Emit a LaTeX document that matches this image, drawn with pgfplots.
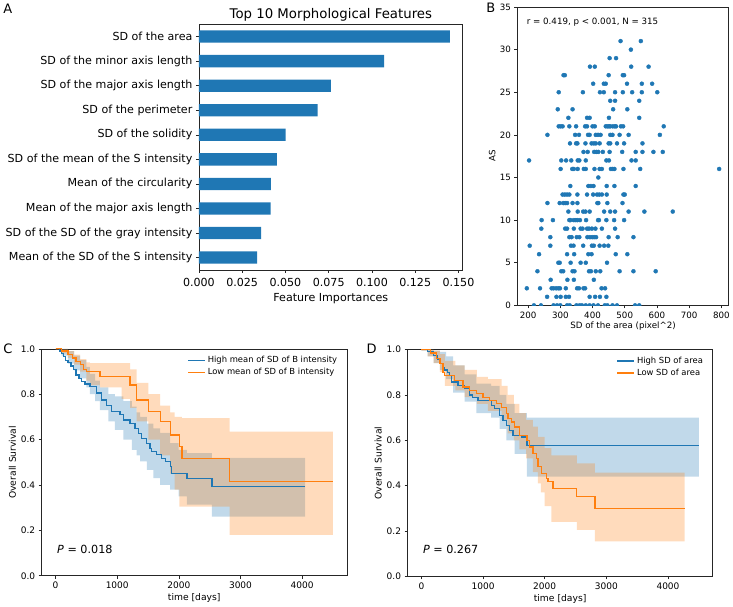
\documentclass[border=0pt]{standalone}
\usepackage{fontspec}
\setmainfont{DejaVu Sans}
\usepackage{pgfplots}
\usepackage{pgfplotstable}
\pgfplotsset{compat=1.18}
\usepgfplotslibrary{fillbetween}
\definecolor{tabblue}{HTML}{1F77B4}
\definecolor{taborange}{HTML}{FF7F0E}
\newcommand{\fsz}[1]{\fontsize{#1bp}{1.2\dimexpr #1bp\relax}\selectfont}

\pgfplotsset{
  mpl/.style={
    scale only axis,
    axis line style={black!85, line width=0.6bp},
    every tick/.style={black!85, line width=0.6bp},
    tick align=outside,
    major tick length=3bp,
    xtick pos=bottom, ytick pos=left,
    /pgf/number format/assume math mode=true,
  },
  km/.style={
    mpl,
    width=305.3bp, height=227bp,
    xmin=-225, xmax=4725, ymin=0, ymax=1,
    xtick={0,1000,2000,3000,4000},
    xticklabels={0,1000,2000,3000,4000},
    ytick={0,0.2,0.4,0.6,0.8,1.0},
    yticklabels={0.0,0.2,0.4,0.6,0.8,1.0},
    tick label style={font=\fsz{9}},
    label style={font=\fsz{9.2}},
    xlabel={time [days]},
    ylabel={Overall Survival},
    xlabel style={yshift=2bp},
    ylabel style={yshift=-2bp},
    legend style={draw=none, fill=none, at={(0.985,0.985)}, anchor=north east, font=\fsz{8.4}, row sep=0bp},
    legend cell align=left,
    legend image code/.code={\draw[#1] (0bp,0bp) -- (17bp,0bp);},
  },
}

% ---------- survival curves (days, survival) ----------
\pgfplotstableread{
t s
0 1.0
60 0.99
100 0.98
130 0.965
160 0.95
200 0.94
250 0.925
290 0.91
330 0.885
380 0.87
420 0.855
480 0.845
558 0.834
666 0.805
748 0.775
829 0.75
910 0.724
1046 0.71
1100 0.687
1208 0.672
1290 0.65
1344 0.628
1398 0.606
1480 0.584
1534 0.562
1561 0.548
1642 0.533
1724 0.518
1778 0.504
1859 0.48
1886 0.452
2130 0.43
2537 0.394
4050 0.394
}\kmCb

\pgfplotstableread{
t s
0 1.0
100 0.99
200 0.975
270 0.96
330 0.945
400 0.93
450 0.91
500 0.90
720 0.878
1208 0.84
1317 0.775
1507 0.724
1697 0.68
1859 0.62
2010 0.57
2049 0.518
2823 0.415
4500 0.415
}\kmCo

\pgfplotstableread{
t lo hi
0 0.995 1.0
100 0.97 1.0
200 0.935 0.99
300 0.905 0.97
400 0.87 0.95
500 0.83 0.92
558 0.80 0.89
640 0.77 0.86
720 0.73 0.83
856 0.68 0.80
964 0.643 0.79
1100 0.60 0.77
1236 0.555 0.745
1317 0.53 0.72
1371 0.504 0.70
1480 0.467 0.67
1588 0.43 0.65
1697 0.40 0.63
1859 0.38 0.585
1995 0.35 0.555
2130 0.313 0.54
2537 0.26 0.52
4050 0.26 0.52
}\bandCb

\pgfplotstableread{
t lo hi
0 0.995 1.0
100 0.98 1.0
200 0.96 0.99
300 0.93 0.975
400 0.90 0.955
500 0.86 0.94
558 0.84 0.937
720 0.83 0.937
1073 0.78 0.937
1208 0.74 0.91
1317 0.68 0.85
1507 0.60 0.80
1697 0.53 0.75
1859 0.45 0.72
1930 0.38 0.70
2010 0.305 0.70
2049 0.305 0.695
2823 0.18 0.635
4500 0.18 0.635
}\bandCo

\pgfplotstableread{
t s
0 1.0
100 0.99
200 0.975
260 0.955
297 0.937
340 0.92
378 0.91
420 0.90
459 0.886
486 0.857
594 0.84
702 0.827
784 0.80
830 0.79
919 0.776
1135 0.754
1189 0.74
1270 0.71
1324 0.688
1378 0.666
1433 0.644
1487 0.622
1622 0.615
1713 0.578
4500 0.578
}\kmDb

\pgfplotstableread{
t s
0 1.0
150 0.985
250 0.96
300 0.94
351 0.90
378 0.886
540 0.864
675 0.835
784 0.82
892 0.805
1000 0.79
1108 0.776
1216 0.761
1300 0.745
1378 0.717
1405 0.695
1460 0.68
1514 0.659
1595 0.622
1713 0.60
1757 0.571
1811 0.542
1865 0.52
1892 0.483
1946 0.454
2027 0.432
2054 0.417
2135 0.388
2514 0.351
2815 0.30
4270 0.30
}\kmDo

\pgfplotstableread{
t lo hi
0 0.995 1.0
100 0.97 1.0
200 0.94 0.995
300 0.91 0.99
400 0.87 0.97
514 0.81 0.93
700 0.77 0.89
892 0.72 0.85
1130 0.70 0.84
1270 0.65 0.80
1378 0.60 0.76
1514 0.54 0.72
1713 0.44 0.70
4500 0.44 0.70
}\bandDb

\pgfplotstableread{
t lo hi
0 0.995 1.0
100 0.97 1.0
200 0.94 0.995
300 0.90 0.98
380 0.84 0.95
550 0.82 0.93
700 0.79 0.91
900 0.76 0.88
1080 0.73 0.87
1300 0.69 0.84
1400 0.63 0.80
1500 0.60 0.76
1590 0.56 0.72
1700 0.52 0.69
1810 0.46 0.66
1890 0.41 0.615
1940 0.37 0.615
2000 0.31 0.565
2110 0.24 0.534
2520 0.205 0.498
2815 0.154 0.458
4270 0.154 0.458
}\bandDo

% ---------- scatter (SD of area, AS) ----------
\pgfplotstableread{
x y
487 31
550 31
519 30
453 29
473 29
392 28
407 28
520 28
574 28
310 27
314 27
450 27
494 27
498 27
402 26
435 26
441 26
507 26
553 26
585 26
295 25
370 25
423 25
435 25
470 25
494 25
523 25
553 25
601 25
455 24
470 24
545 24
292 23
338 23
464 23
508 23
325 22
383 22
391 22
451 22
545 22
295 21
301 21
307 21
328 21
349 21
377 21
383 21
400 21
407 21
441 21
446 21
451 21
455 21
463 21
469 21
473 21
488 21
495 21
621 21
260 20
346 20
358 20
386 20
391 20
410 20
417 20
425 20
455 20
462 20
484 20
512 20
609 20
330 19
349 19
353 19
378 19
397 19
404 19
410 19
422 19
450 19
455 19
476 19
498 19
555 19
372 18
385 18
405 18
412 18
418 18
432 18
453 18
492 18
534 18
555 18
589 18
618 18
203 17
303 17
318 17
334 17
354 17
359 17
379 17
443 17
451 17
521 17
534 17
301 16
337 16
342 16
354 16
373 16
379 16
406 16
422 16
429 16
457 16
463 16
468 16
496 16
548 16
793 16
418 15
331 14
387 14
395 14
403 14
444 14
468 14
534 14
307 13
314 13
321 13
328 13
353 13
383 13
402 13
414 13
421 13
429 13
444 13
496 13
500 13
260 12
298 12
309 12
315 12
321 12
338 12
353 12
415 12
418 12
446 12
493 12
325 11
354 11
371 11
378 11
391 11
436 11
455 11
470 11
512 11
561 11
649 11
242 10
277 10
328 10
332 10
342 10
348 10
353 10
361 10
380 10
417 10
420 10
443 10
467 10
498 10
241 9
315 9
321 9
342 9
363 9
369 9
383 9
389 9
398 9
409 9
429 9
470 9
269 8
328 8
335 8
351 8
359 8
384 8
392 8
399 8
405 8
411 8
450 8
478 8
527 8
205 7
269 7
333 7
341 7
371 7
398 7
404 7
422 7
436 7
449 7
234 6
321 6
343 6
387 6
397 6
472 6
508 6
294 5
298 5
332 5
363 5
379 5
445 5
229 4
303 4
309 4
338 4
344 4
389 4
395 4
410 4
424 4
484 4
527 4
596 4
270 3
322 3
342 3
404 3
196 2
237 2
273 2
279 2
287 2
294 2
299 2
317 2
352 2
358 2
372 2
377 2
428 2
439 2
259 1
288 1
301 1
317 1
327 1
391 1
408 1
423 1
443 1
218 0
240 0
279 0
290 0
300 0
321 0
329 0
350 0
360 0
367 0
379 0
391 0
403 0
417 0
438 0
446 0
462 0
476 0
532 0
545 0
}\scatterB

\begin{document}
\begin{tikzpicture}

% ---------------- Panel A ----------------
\begin{axis}[mpl,
  at={(199bp,337bp)}, anchor=south west,
  width=264bp, height=245.7bp,
  xbar, bar width=0.5,
  xmin=0, xmax=0.1525, ymin=-0.5, ymax=9.5,
  xtick={0,0.025,0.05,0.075,0.1,0.125,0.15},
  xticklabels={0.000,0.025,0.050,0.075,0.100,0.125,0.150},
  ytick={0,1,2,3,4,5,6,7,8,9},
  yticklabels={Mean of the SD of the S intensity,SD of the SD of the gray intensity,Mean of the major axis length,Mean of the circularity,SD of the mean of the S intensity,SD of the solidity,SD of the perimeter,SD of the major axis length,SD of the minor axis length,SD of the area},
  tick label style={font=\fsz{11.1}},
  xticklabel style={yshift=-1.5bp},
  xlabel={Feature Importances},
  xlabel style={font=\fsz{11.1}, yshift=0bp},
  title={Top 10 Morphological Features},
  title style={font=\fsz{13.3}, yshift=-6bp},
]
\addplot[fill=tabblue, draw=none] coordinates {
(0.0337,0) (0.0360,1) (0.0414,2) (0.0416,3) (0.0451,4) (0.0501,5) (0.0686,6) (0.0763,7) (0.107,8) (0.145,9)};
\end{axis}

% ---------------- Panel B ----------------
\begin{axis}[mpl,
  at={(517.7bp,301.5bp)}, anchor=south west,
  width=211.3bp, height=298.5bp,
  xmin=167, xmax=822.6, ymin=0, ymax=35,
  clip marker paths=true,
  xtick={200,300,400,500,600,700,800},
  ytick={0,5,10,15,20,25,30,35},
  tick label style={font=\fsz{8.7}},
  label style={font=\fsz{8.7}},
  xlabel={SD of the area (pixel\textasciicircum 2)},
  ylabel={AS},
  xlabel style={yshift=3.5bp},
  ylabel style={yshift=-2.5bp},
]
\addplot[only marks, color=tabblue, mark=*, mark size=2bp, mark options={solid, fill=tabblue, draw=tabblue}] table[x=x,y=y] {\scatterB};
\node[anchor=west, font=\fsz{8.7}] at (axis cs:185,33.2) {r = 0.419, p < 0.001, N = 315};
\end{axis}

% ---------------- Panel C ----------------
\begin{axis}[km, at={(41.7bp,31bp)}, anchor=south west]
\addplot[draw=none, const plot, name path=cbl, forget plot] table[x=t,y=lo] {\bandCb};
\addplot[draw=none, const plot, name path=cbu, forget plot] table[x=t,y=hi] {\bandCb};
\addplot[fill=tabblue, fill opacity=0.28, draw=none, forget plot] fill between[of=cbu and cbl];
\addplot[draw=none, const plot, name path=col, forget plot] table[x=t,y=lo] {\bandCo};
\addplot[draw=none, const plot, name path=cou, forget plot] table[x=t,y=hi] {\bandCo};
\addplot[fill=taborange, fill opacity=0.28, draw=none, forget plot] fill between[of=cou and col];
\addplot[tabblue, line width=1.3bp, const plot, no marks] table[x=t,y=s] {\kmCb};
\addlegendentry{High mean of SD of B intensity}
\addplot[taborange, line width=1.3bp, const plot, no marks] table[x=t,y=s] {\kmCo};
\addlegendentry{Low mean of SD of B intensity}
\node[anchor=west, font=\fsz{11.2}] at (axis cs:-30,0.117) {\textit{P} = 0.018};
\end{axis}

% ---------------- Panel D ----------------
\begin{axis}[km, at={(407.7bp,30.3bp)}, anchor=south west]
\addplot[draw=none, const plot, name path=dbl, forget plot] table[x=t,y=lo] {\bandDb};
\addplot[draw=none, const plot, name path=dbu, forget plot] table[x=t,y=hi] {\bandDb};
\addplot[fill=tabblue, fill opacity=0.28, draw=none, forget plot] fill between[of=dbu and dbl];
\addplot[draw=none, const plot, name path=dol, forget plot] table[x=t,y=lo] {\bandDo};
\addplot[draw=none, const plot, name path=dou, forget plot] table[x=t,y=hi] {\bandDo};
\addplot[fill=taborange, fill opacity=0.28, draw=none, forget plot] fill between[of=dou and dol];
\addplot[tabblue, line width=1.3bp, const plot, no marks] table[x=t,y=s] {\kmDb};
\addlegendentry{High SD of area}
\addplot[taborange, line width=1.3bp, const plot, no marks] table[x=t,y=s] {\kmDo};
\addlegendentry{Low SD of area}
\node[anchor=west, font=\fsz{11.2}] at (axis cs:-30,0.117) {\textit{P} = 0.267};
\end{axis}

% ---------------- panel letters ----------------
\node[anchor=base west, inner sep=0pt, font=\fsz{13}] at (3.3bp,593bp) {A};
\node[anchor=base west, inner sep=0pt, font=\fsz{13}] at (486.5bp,594.3bp) {B};
\node[anchor=base west, inner sep=0pt, font=\fsz{13}] at (3.3bp,253.7bp) {C};
\node[anchor=base west, inner sep=0pt, font=\fsz{13}] at (366.5bp,253.7bp) {D};
\path (0bp,0bp) rectangle (733bp,607bp);
\end{tikzpicture}
\end{document}
